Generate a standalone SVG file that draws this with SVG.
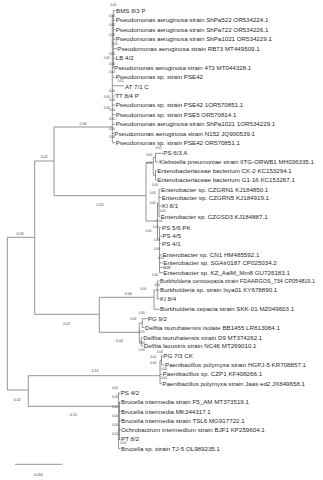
<svg xmlns="http://www.w3.org/2000/svg" width="323" height="480" viewBox="0 0 323 480">
<style>
.br{fill:none;stroke:#7a7a7a;stroke-width:0.8}
.lf{font-family:"Liberation Sans",Arial,sans-serif;font-size:6.2px;fill:#2a2a2a}
.bl{font-family:"Liberation Sans",Arial,sans-serif;font-size:3.6px;fill:#444;text-anchor:middle}
.sm{font-family:"Liberation Sans",Arial,sans-serif;font-size:3.1px;fill:#444;text-anchor:middle}
</style>
<rect width="323" height="480" fill="#fff"/>
<g id="connectors">
<path class="br" d="M7.3,237.3V390M7.3,237.3H34.7M34.7,161V314.3M34.7,161H54M54,127V195.7M54,127H112.3M54,195.7H146M34.7,314.3H99.3M99.3,297.3V332.3M99.3,297.3H154M99.3,332.3H139.3M7.3,390H28.3M28.3,375.7V406.3M28.3,375.7H160M28.3,406.3H118.5"/>
<path class="br" d="M112.3,15V142.7M113.3,10.7V68"/>
<path class="br" d="M146,162.7V221M146,162.7H153.3M153.3,157.6V175.3M153.3,157.6H155.5M155.5,153.3V162M153.3,175.3H155.5M155.5,170.7V180M146,221H157.5M157.5,203V239M157.5,203H159M159,189.5V216.7M157.5,239H159.5M159.5,227.7V272.7"/>
<path class="br" d="M154,290V309.3M154,290H157.3M157.3,281V299"/>
<path class="br" d="M139.3,323V341.8M139.3,323H142.3M142.3,318.7V327.5M139.3,341.8H141.3M141.3,337.7V346"/>
<path class="br" d="M160,360.3V383.7M160,360.3H161.5M161.5,355.7V365"/>
<path class="br" d="M118.5,393V448.7M119.5,402V440"/>
<path class="br" d="M15,464.3H62.3"/>
</g>
<g id="branch-labels">
<text class="bl" x="20" y="235">0.03</text>
<text class="bl" x="44.3" y="158">0.02</text>
<text class="bl" x="83" y="124.5">0.06</text>
<text class="bl" x="100" y="205.5">0.10</text>
<text class="bl" x="66.7" y="324.5">0.07</text>
<text class="bl" x="128.3" y="294.5">0.06</text>
<text class="bl" x="119.3" y="342">0.04</text>
<text class="bl" x="95" y="372">0.14</text>
<text class="bl" x="17.3" y="401">0.02</text>
<text class="bl" x="73.3" y="416">0.10</text>
<text class="bl" x="38.3" y="475.5">0.050</text>
<text class="sm" x="113.3" y="6">0.00</text>
<text class="sm" x="112" y="16.7">0.00</text>
<text class="sm" x="112" y="26">0.00</text>
<text class="sm" x="112" y="35.7">0.00</text>
<text class="sm" x="114.7" y="45.3">0.00</text>
<text class="sm" x="112" y="55.3">0.00</text>
<text class="sm" x="106.7" y="59.3">0.00</text>
<text class="sm" x="112" y="65">0.00</text>
<text class="sm" x="112" y="72.7">0.00</text>
<text class="sm" x="120.7" y="82">0.01</text>
<text class="sm" x="112" y="92">0.00</text>
<text class="sm" x="106.7" y="98.3">0.00</text>
<text class="sm" x="112" y="101">0.00</text>
<text class="sm" x="106.7" y="108.7">0.00</text>
<text class="sm" x="112" y="111">0.00</text>
<text class="sm" x="112" y="120.3">0.00</text>
<text class="sm" x="112" y="130.3">0.00</text>
<text class="sm" x="112" y="138.3">0.00</text>
<text class="sm" x="158.7" y="149.2">0.01</text>
<text class="sm" x="149.3" y="156">0.00</text>
<text class="sm" x="149.3" y="163.7">0.01</text>
<text class="sm" x="155" y="186">0.00</text>
<text class="sm" x="152.7" y="194">0.00</text>
<text class="sm" x="152.7" y="204.3">0.00</text>
<text class="sm" x="162.7" y="212">0.00</text>
<text class="sm" x="159.3" y="222.3">0.00</text>
<text class="sm" x="148.5" y="231.5">0.00</text>
<text class="sm" x="156" y="228.3">0.00</text>
<text class="sm" x="157" y="240.8">0.00</text>
<text class="sm" x="157" y="249.5">0.00</text>
<text class="sm" x="161" y="258.7">0.00</text>
<text class="sm" x="155" y="276">0.00</text>
<text class="sm" x="157.3" y="286">0.00</text>
<text class="sm" x="143.3" y="290.3">0.00</text>
<text class="sm" x="141.7" y="314.3">0.00</text>
<text class="sm" x="133.3" y="319.7">0.00</text>
<text class="sm" x="141.7" y="333.3">0.01</text>
<text class="sm" x="142" y="344">0.00</text>
<text class="sm" x="141.7" y="350.5">0.00</text>
<text class="sm" x="160" y="352.7">0.00</text>
<text class="sm" x="153.3" y="357.7">0.00</text>
<text class="sm" x="153.3" y="363.7">0.00</text>
<text class="sm" x="164" y="370.3">0.00</text>
<text class="sm" x="164" y="379.3">0.00</text>
<text class="sm" x="115" y="388.7">0.00</text>
<text class="sm" x="115" y="398.3">0.00</text>
<text class="sm" x="115" y="407.7">0.00</text>
<text class="sm" x="115" y="417">0.00</text>
<text class="sm" x="115" y="426">0.00</text>
<text class="sm" x="115" y="435.3">0.00</text>
<text class="sm" x="123.3" y="444.3">0.00</text>
</g>
<g id="n1"><path class="br" d="M113.3,10.7H115.5"/><text class="lf" x="116" y="12.8">BMS 8/3 P</text></g>
<g id="n2"><path class="br" d="M113.3,20.3H115.2"/><text class="lf" x="115.7" y="22.4">Pseudomonas aeruginosa strain ShPa522 OR534224.1</text></g>
<g id="n3"><path class="br" d="M113.3,29.7H115.2"/><text class="lf" x="115.7" y="31.8">Pseudomonas aeruginosa strain ShPa722 OR534226.1</text></g>
<g id="n4"><path class="br" d="M113.3,39.3H115.2"/><text class="lf" x="115.7" y="41.4">Pseudomonas aeruginosa strain ShPa1021 OR534229.1</text></g>
<g id="n5"><path class="br" d="M113.3,48.7H117"/><text class="lf" x="117.3" y="50.8">Pseudomonas aeruginosa strain RB73 MT449509.1</text></g>
<g id="n6"><path class="br" d="M113.3,58.3H115.2"/><text class="lf" x="115.7" y="60.4">LB 4/2</text></g>
<g id="n7"><path class="br" d="M112.3,67.8H113.8"/><text class="lf" x="114" y="69.9">Pseudomonas aeruginosa strain 473 MT044328.1</text></g>
<g id="n8"><path class="br" d="M112.3,77.3H115.2"/><text class="lf" x="115.7" y="79.4">Pseudomonas sp. strain PSE42</text></g>
<g id="n9"><path class="br" d="M112.3,85.8H124"/><text class="lf" x="125" y="89.1">AT 7/1 C</text></g>
<g id="n10"><path class="br" d="M112.3,96H115"/><text class="lf" x="115.3" y="98.1">TT 8/4 P</text></g>
<g id="n11"><path class="br" d="M112.3,105H115.2"/><text class="lf" x="115.7" y="107.1">Pseudomonas sp. strain PSE42 1OR570851.1</text></g>
<g id="n12"><path class="br" d="M112.3,114.7H115.2"/><text class="lf" x="115.7" y="116.8">Pseudomonas sp. strain PSE5 OR570814.1</text></g>
<g id="n13"><path class="br" d="M112.3,124.3H115.2"/><text class="lf" x="115.7" y="126.4">Pseudomonas aeruginosa strain ShPa1021 1OR534229.1</text></g>
<g id="n14"><path class="br" d="M112.3,133.5H114"/><text class="lf" x="114.3" y="135.6">Pseudomonas aeruginosa strain N152 JQ900539.1</text></g>
<g id="n15"><path class="br" d="M112.3,142.7H115.2"/><text class="lf" x="115.7" y="144.8">Pseudomonas sp. strain PSE42 OR570851.1</text></g>
<g id="n16"><path class="br" d="M155.5,153.3H162.8"/><text class="lf" x="163.3" y="155.4">PS 6/3 A</text></g>
<g id="n17"><path class="br" d="M155.5,162H158.8"/><text class="lf" x="159.3" y="164.1">Klebsiella pneumoniae strain IITG-ORWB1 MH036335.1</text></g>
<g id="n18"><path class="br" d="M155.5,170.7H156.8"/><text class="lf" x="157.3" y="172.8">Enterobacteriaceae bacterium CK-2 KC153294.1</text></g>
<g id="n19"><path class="br" d="M155.5,180H156.8"/><text class="lf" x="157.3" y="182.1">Enterobacteriaceae bacterium G1-16 KC153267.1</text></g>
<g id="n20"><path class="br" d="M159,189.5H160.5"/><text class="lf" x="161" y="191.6">Enterobacter sp. CZGRN1 KJ184850.1</text></g>
<g id="n21"><path class="br" d="M159,197.5H161.2"/><text class="lf" x="161.7" y="199.6">Enterobacter sp. CZGRN5 KJ184919.1</text></g>
<g id="n22"><path class="br" d="M159,206H161.5"/><text class="lf" x="162" y="208.1">KI 8/1</text></g>
<g id="n23"><path class="br" d="M159,216.7H160.2"/><text class="lf" x="160.7" y="218.8">Enterobacter sp. CZGSD3 KJ184887.1</text></g>
<g id="n24"><path class="br" d="M159.5,227.7H161.5"/><text class="lf" x="162" y="229.8">PS 5/6 PK</text></g>
<g id="n25"><path class="br" d="M159.5,236.3H161.8"/><text class="lf" x="162.3" y="238.4">PS 4/5</text></g>
<g id="n26"><path class="br" d="M159.5,243.7H161.5"/><text class="lf" x="162" y="245.8">PS 4/1</text></g>
<g id="n27"><path class="br" d="M159.5,255H162.2"/><text class="lf" x="162.7" y="257.1">Enterobacter sp. CN1 HM485592.1</text></g>
<g id="n28"><path class="br" d="M159.5,263H162.8"/><text class="lf" x="163.3" y="265.1">Enterobacter sp. SGAir0187 CP025034.2</text></g>
<g id="n29"><path class="br" d="M159.5,267.3H162.5"/><text class="lf" x="163" y="268.9" style="font-size:4px">MJ8</text></g>
<g id="n30"><path class="br" d="M159.5,272.7H162.8"/><text class="lf" x="163.3" y="274.8">Enterobacter sp. KZ_AalM_Mm8 GU726183.1</text></g>
<g id="n31"><path class="br" d="M157.3,281H159.5"/><text class="lf" x="160" y="283" style="font-size:5.5px">Burkholderia cenocepacia strain FDAARGOS_734 CP054819.1</text></g>
<g id="n32"><path class="br" d="M157.3,290H159.5"/><text class="lf" x="160" y="292.1">Burkholderia sp. strain Isya01 KY678890.1</text></g>
<g id="n33"><path class="br" d="M157.3,299H159.5"/><text class="lf" x="160" y="301.1">KI 8/4</text></g>
<g id="n34"><path class="br" d="M154,309.3H159.5"/><text class="lf" x="160" y="311.4">Burkholderia cepacia strain SKK-01 MZ049603.1</text></g>
<g id="n35"><path class="br" d="M142.3,318.7H147.2"/><text class="lf" x="147.7" y="320.8">PG 9/2</text></g>
<g id="n36"><path class="br" d="M142.3,327.5H144.5"/><text class="lf" x="145" y="329.6">Delftia tsuruhatensis isolate BB1455 LR813084.1</text></g>
<g id="n37"><path class="br" d="M141.3,337.7H142.8"/><text class="lf" x="143.3" y="339.8">Delftia tsuruhatensis strain D9 MT374262.1</text></g>
<g id="n38"><path class="br" d="M141.3,346H143.2"/><text class="lf" x="143.7" y="348.1">Delftia lacustris strain NC46 MT269010.1</text></g>
<g id="n39"><path class="br" d="M161.5,355.7H162.8"/><text class="lf" x="163.3" y="357.8">PG 7/3 CK</text></g>
<g id="n40"><path class="br" d="M161.5,365H164.5"/><text class="lf" x="165" y="367.1">Paenibacillus polymyxa strain HGPJ-5 KR708857.1</text></g>
<g id="n41"><path class="br" d="M160,374.3H162.2"/><text class="lf" x="162.7" y="376.4">Paenibacillus sp. CZP1 KF408266.1</text></g>
<g id="n42"><path class="br" d="M160,383.7H161.8"/><text class="lf" x="162.3" y="385.8">Paenibacillus polymyxa strain Jaas ed2 JX849658.1</text></g>
<g id="n43"><path class="br" d="M118.5,393H120.2"/><text class="lf" x="120.7" y="395.1">PS 4/2</text></g>
<g id="n44"><path class="br" d="M118.5,402.3H120.5"/><text class="lf" x="121" y="404.4">Brucella intermedia strain F5_AM MT373519.1</text></g>
<g id="n45"><path class="br" d="M118.5,411.7H120.5"/><text class="lf" x="121" y="413.8">Brucella intermedia MK344317.1</text></g>
<g id="n46"><path class="br" d="M118.5,420.7H120.5"/><text class="lf" x="121" y="422.8">Brucella intermedia strain TSL6 MG917722.1</text></g>
<g id="n47"><path class="br" d="M118.5,430H120.5"/><text class="lf" x="121" y="432.1">Ochrobactrum intermedium strain BJF1 KP259604.1</text></g>
<g id="n48"><path class="br" d="M118.5,439.3H120.5"/><text class="lf" x="121" y="441.4">PT 8/2</text></g>
<g id="n49"><path class="br" d="M118.5,448.7H120.5"/><text class="lf" x="121" y="450.8">Brucella sp. strain TJ-5 OL989235.1</text></g>
</svg>
